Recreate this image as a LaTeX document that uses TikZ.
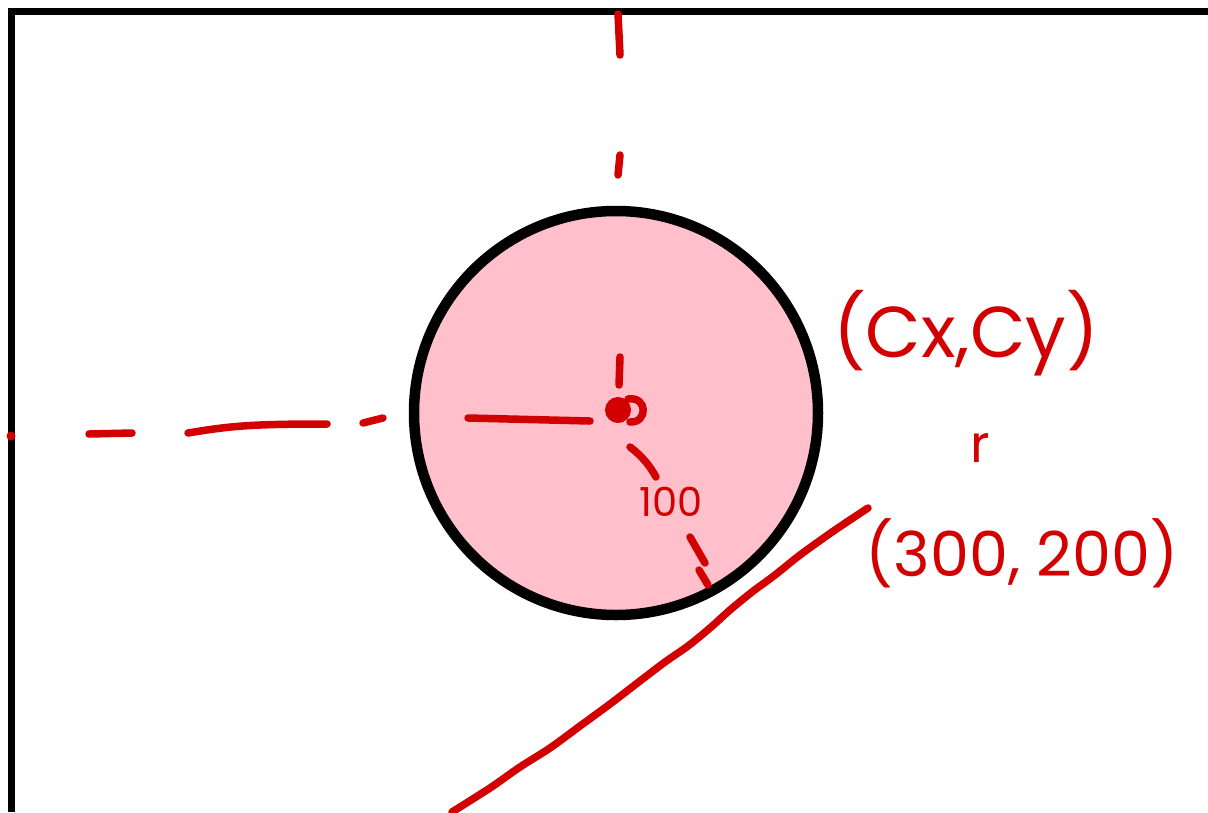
\documentclass[tikz,border=0pt]{standalone}
\usepackage{fontspec}
\setmainfont{Poppins}
\definecolor{ink}{RGB}{210,0,0}
\definecolor{ballpink}{RGB}{255,192,203}
\begin{document}
\begin{tikzpicture}[x=1pt,y=-1pt,
  redline/.style={draw=ink,line width=7.5pt,line cap=round,line join=round},
  hand/.style={text=ink,inner sep=0pt,anchor=center}]
\useasboundingbox (0,0) rectangle (1208,812);
\fill[white] (0,0) rectangle (1208,812);
% frame
\draw[line width=6.5pt] (11.5,812) -- (11.5,11.5) -- (1208,11.5);
% circle
\node[circle,draw=black,line width=10.5pt,fill=ballpink,minimum size=404pt,inner sep=0pt] (ball) at (616,413) {};
% centre dot
\coordinate (ctr) at (618,410);
\fill[ink] (ctr) circle (13pt);
\draw[redline] (628,399) .. controls (648,396) and (648,423) .. (630,422);
% vertical dashed axis
\draw[redline] (618,14) -- (620,55);
\draw[redline] (620,155) -- (618,175);
\draw[redline] (620,357) -- (619,385);
% horizontal dashed axis
\fill[ink] (11,436) circle (4.5pt);
\draw[redline] (89,434) -- (132,433);
\draw[redline] (188,433) .. controls (230,426) and (250,424) .. (327,424);
\draw[redline] (363,423) -- (383,418);
\draw[redline] (468,418) -- (590,421);
% radius
\draw[redline] (630,447) .. controls (642,456) and (650,466) .. (656,477);
\node[hand,font=\fontsize{40}{40}\selectfont] (rlabel) at (671,502) {100};
\draw[redline] (690,537) -- (705,563);
\draw[redline] (699,570) -- (708,585);
% labels
\node[hand,font=\fontsize{72}{72}\selectfont] (cxcy) at (966,333) {(Cx,Cy)};
\node[hand,font=\fontsize{52}{52}\selectfont] (rname) at (980,448) {r};
\node[hand,font=\fontsize{62}{62}\selectfont] (coord) at (1022,553) {(300, 200)};
% tangent-ish line
\draw[redline] plot[smooth,tension=0.5] coordinates {(868,508) (835,530) (800,555) (775,575) (752,592) (730,610) (710,628) (688,646) (665,662) (640,681) (610,704) (580,726) (550,748) (520,767) (490,788) (452,812)};
\end{tikzpicture}
\end{document}
